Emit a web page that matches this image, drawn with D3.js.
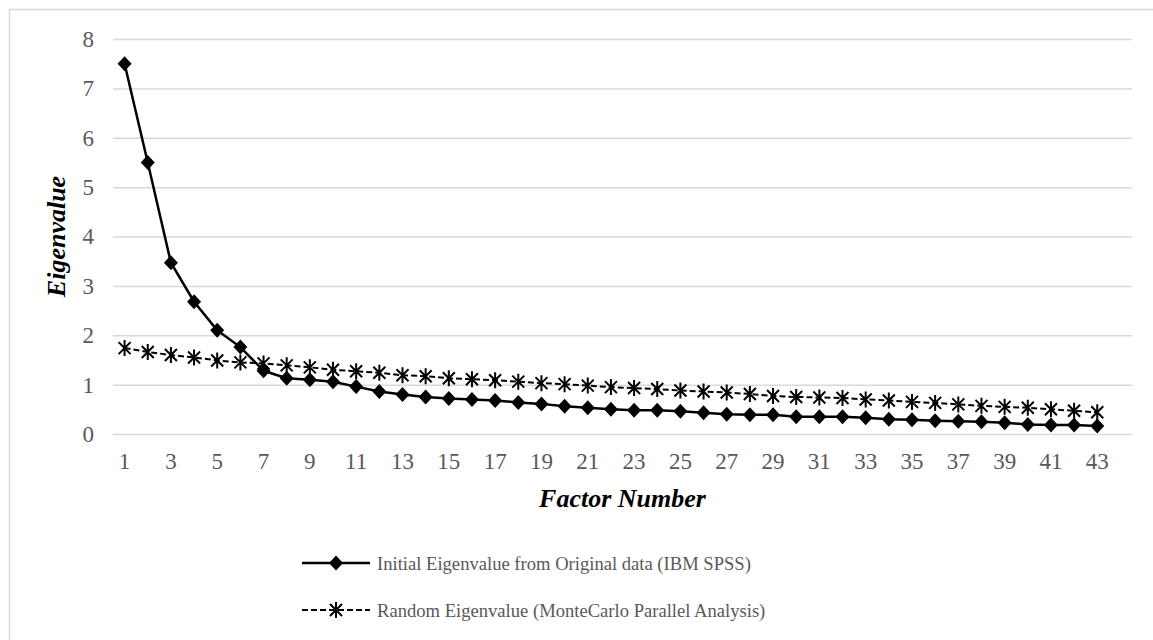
<!DOCTYPE html>
<html>
<head>
<meta charset="utf-8">
<script src="https://cdn.jsdelivr.net/npm/d3@7"></script>
<style>
  body { margin: 0; background: #fff; }
  text { font-family: "Liberation Serif", "Times New Roman", serif; }
</style>
</head>
<body>
<div id="chart"></div>
<script>
// Data
var factors = d3.range(1, 44);
var initialEigen = [7.50, 5.50, 3.47, 2.68, 2.10, 1.76, 1.28, 1.13, 1.10, 1.06,
  0.96, 0.86, 0.80, 0.75, 0.72, 0.70, 0.68, 0.64, 0.61, 0.56,
  0.53, 0.50, 0.48, 0.48, 0.46, 0.43, 0.40, 0.39, 0.39, 0.35,
  0.35, 0.35, 0.33, 0.30, 0.29, 0.27, 0.26, 0.25, 0.23, 0.19,
  0.18, 0.18, 0.16];
var randomEigen = [1.74, 1.66, 1.60, 1.55, 1.49, 1.45, 1.43, 1.39, 1.35, 1.30,
  1.27, 1.24, 1.19, 1.17, 1.13, 1.11, 1.09, 1.06, 1.03, 1.01,
  0.98, 0.95, 0.93, 0.91, 0.88, 0.86, 0.84, 0.81, 0.77, 0.75,
  0.74, 0.73, 0.70, 0.68, 0.65, 0.63, 0.60, 0.57, 0.55, 0.53,
  0.50, 0.47, 0.44];
var yTicks = [0, 1, 2, 3, 4, 5, 6, 7, 8];
var seriesNames = ["Initial Eigenvalue from Original data (IBM SPSS)",
  "Random Eigenvalue (MonteCarlo Parallel Analysis)"];

var svgWidth = 1153;
var svgHeight = 640;

var margin = { top: 39, right: 21, bottom: 206, left: 113 };
var width = svgWidth - margin.left - margin.right;
var height = svgHeight - margin.top - margin.bottom;

var svg = d3.select("#chart")
  .append("svg")
  .attr("width", svgWidth)
  .attr("height", svgHeight);

// outer frame (right and bottom edges fall outside the picture)
svg.append("rect")
  .attr("x", 9.5)
  .attr("y", 9.5)
  .attr("width", svgWidth + 20)
  .attr("height", svgHeight + 20)
  .attr("fill", "none")
  .attr("stroke", "#d9d9d9")
  .attr("stroke-width", 1.5);

var chartGroup = svg.append("g")
  .attr("transform", `translate(${margin.left}, ${margin.top})`);

// the category axis holds one empty slot after the last factor
var xScale = d3.scaleBand()
  .domain(d3.range(1, factors.length + 2))
  .range([0, width]);

var yScale = d3.scaleLinear()
  .domain([0, 8])
  .range([height, 0]);

var xPos = d => xScale(d) + xScale.bandwidth() / 2;

// gridlines
chartGroup.append("g")
  .call(d3.axisLeft(yScale).tickValues(yTicks).tickSize(-width).tickFormat(""))
  .call(g => g.select(".domain").remove())
  .call(g => g.selectAll("line").attr("stroke", "#d9d9d9").attr("stroke-width", 1.5));

// y tick labels
chartGroup.append("g")
  .call(d3.axisLeft(yScale).tickValues(yTicks).tickSize(0).tickPadding(19))
  .call(g => g.select(".domain").remove())
  .call(g => g.selectAll("text")
    .attr("fill", "#595959")
    .style("font-size", "23px")
    .style("font-family", "Liberation Serif, serif"));

// x tick labels (every other factor)
chartGroup.append("g")
  .attr("transform", `translate(0, ${height})`)
  .call(d3.axisBottom(xScale).tickValues(factors.filter(d => d % 2 === 1)).tickSize(0).tickPadding(19))
  .call(g => g.select(".domain").remove())
  .call(g => g.selectAll("text")
    .attr("fill", "#595959")
    .style("font-size", "23px")
    .style("font-family", "Liberation Serif, serif"));

// axis titles
chartGroup.append("text")
  .attr("transform", "rotate(-90)")
  .attr("x", -height / 2)
  .attr("y", 65 - margin.left)
  .attr("text-anchor", "middle")
  .style("font-size", "26px")
  .style("font-weight", "bold")
  .style("font-style", "italic")
  .text("Eigenvalue");

chartGroup.append("text")
  .attr("x", width / 2)
  .attr("y", 507 - margin.top)
  .attr("text-anchor", "middle")
  .style("font-size", "26px")
  .style("font-weight", "bold")
  .style("font-style", "italic")
  .text("Factor Number");

var diamond = "M0,-7.5L7,0L0,7.5L-7,0Z";
var asterisk = "M-6,-6L6,6M-6,6L6,-6M0,-8L0,8";

var line = d3.line()
  .x((d, i) => xPos(factors[i]))
  .y(d => yScale(d));

// random eigenvalue line (dashed, asterisks)
chartGroup.append("path")
  .datum(randomEigen)
  .attr("d", line)
  .attr("fill", "none")
  .attr("stroke", "#000")
  .attr("stroke-width", 2)
  .attr("stroke-dasharray", "6,3");

chartGroup.selectAll("path.star")
  .data(randomEigen)
  .enter()
  .append("path")
  .attr("class", "star")
  .attr("transform", (d, i) => `translate(${xPos(factors[i])}, ${yScale(d)})`)
  .attr("d", asterisk)
  .attr("stroke", "#000")
  .attr("stroke-width", 2)
  .attr("fill", "none");

// initial eigenvalue line (solid, diamonds)
chartGroup.append("path")
  .datum(initialEigen)
  .attr("d", line)
  .attr("fill", "none")
  .attr("stroke", "#000")
  .attr("stroke-width", 2.5);

chartGroup.selectAll("path.diamond")
  .data(initialEigen)
  .enter()
  .append("path")
  .attr("class", "diamond")
  .attr("transform", (d, i) => `translate(${xPos(factors[i])}, ${yScale(d)})`)
  .attr("d", diamond)
  .attr("fill", "#000");

// legend
var legend = svg.append("g");
var legendY = [563, 610];

legend.append("line")
  .attr("x1", 302).attr("x2", 370)
  .attr("y1", legendY[0]).attr("y2", legendY[0])
  .attr("stroke", "#000").attr("stroke-width", 2.5);
legend.append("path")
  .attr("transform", `translate(336, ${legendY[0]})`)
  .attr("d", diamond)
  .attr("fill", "#000");

legend.append("line")
  .attr("x1", 302).attr("x2", 370)
  .attr("y1", legendY[1]).attr("y2", legendY[1])
  .attr("stroke", "#000").attr("stroke-width", 2)
  .attr("stroke-dasharray", "6,3");
legend.append("path")
  .attr("transform", `translate(336, ${legendY[1]})`)
  .attr("d", asterisk)
  .attr("stroke", "#000").attr("stroke-width", 2)
  .attr("fill", "none");

legend.selectAll("text.legend")
  .data(seriesNames)
  .enter()
  .append("text")
  .attr("class", "legend")
  .attr("x", 377)
  .attr("y", (d, i) => legendY[i] + 7)
  .attr("fill", "#595959")
  .style("font-size", "18.6px")
  .text(d => d);
</script>
</body>
</html>
